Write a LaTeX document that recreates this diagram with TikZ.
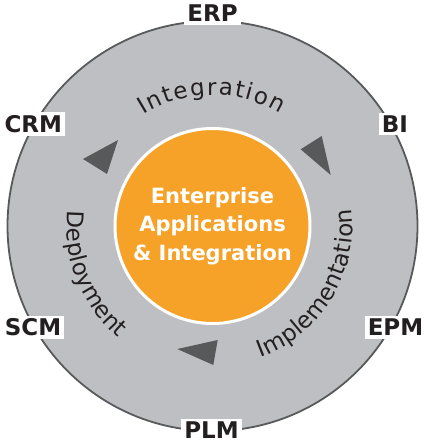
\documentclass[tikz,border=0pt]{standalone}
\usepackage{fontspec}
\setsansfont{DejaVu Sans}
\usetikzlibrary{positioning,decorations.text}

\definecolor{ringgray}{RGB}{190,191,194}
\definecolor{ringline}{RGB}{88,89,91}
\definecolor{hubfill}{RGB}{246,161,40}
\definecolor{ink}{RGB}{35,31,32}

\newcommand\phasefont{\color{ink}\sffamily\fontsize{23pt}{23pt}\selectfont}

\begin{document}
\begin{tikzpicture}[x=1pt,y=1pt,
    ring/.style={circle,draw=ringline,line width=1.8pt,fill=ringgray,
		minimum size=410pt,inner sep=0pt},
    hub/.style={circle,draw=white,line width=3pt,fill=hubfill,minimum size=195pt,
		inner sep=0pt,text=white,align=center,
		font=\sffamily\bfseries\fontsize{21}{28.4}\selectfont},
    system/.style={rectangle,fill=white,inner sep=3pt,text=ink,
		font=\sffamily\bfseries\fontsize{23}{23}\selectfont},
    marker/.style={fill=ringline},
% Phase text along the ring
    phase/.style={decorate,decoration={text along path,text align=fit to path,
		text={|\phasefont|#1}}}
    ]
    \useasboundingbox (-212.5,-217) rectangle (212.5,226);

    % Place nodes
    \node [ring] (ring) at (0,0) {};
    \node [system] (erp) at (0,212.6) {ERP};
    \node [system] (crm) at (-179.2,102) {CRM};
    \node [system] (bi) at (182.5,102) {BI};
    \node [system] (scm) at (-179.5,-101.5) {SCM};
    \node [system] (epm) at (183,-101.5) {EPM};
    \node [system] (plm) at (-1,-204) {PLM};
    \node [hub] (core) at (0,0) {Enterprise\\Applications\\\& Integration};

    % Draw markers
    \fill [marker] (-129.5,67) -- (-94.5,86) -- (-105.5,52) -- cycle;
    \fill [marker] (88.2,76.7) -- (109.2,90) -- (118.2,51) -- cycle;
    \fill [marker] (-35.2,-123) -- (5.2,-114) -- (0.8,-139) -- cycle;

    % Phase labels
    \path [phase=Integration] (122:131pt) arc [start angle=122,end angle=59,radius=131pt];
    \path [phase=Implementation] (-70:140pt) arc [start angle=-70,end angle=7,radius=140pt];
    \path [phase=Deployment] (174:146pt) arc [start angle=174,end angle=230,radius=146pt];

\end{tikzpicture}
\end{document}
